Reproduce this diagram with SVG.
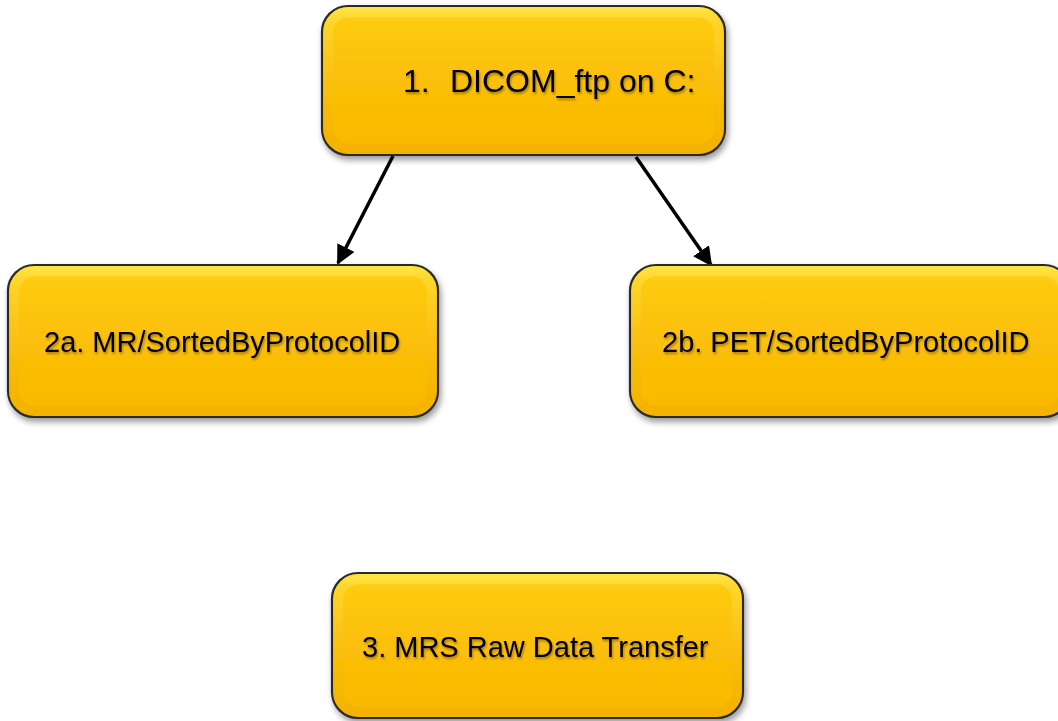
<svg xmlns="http://www.w3.org/2000/svg" width="1058" height="721" viewBox="0 0 1058 721">
<style>
.box{fill:url(#g);stroke:#2a2a2a;stroke-width:2.2;filter:url(#sh)}
.bev{fill:none;stroke:url(#bv);stroke-width:10;opacity:0.35}
.t{font-family:"Liberation Sans",Arial,sans-serif;fill:#000;font-size:29px;filter:url(#ts)}
.c{stroke:#000;stroke-width:3.5;fill:none;marker-end:url(#ah)}
</style>
<defs>
<linearGradient id="g" x1="0" y1="0" x2="0" y2="1">
<stop offset="0" stop-color="#FFE135"/>
<stop offset="0.1" stop-color="#FDCB12"/>
<stop offset="0.5" stop-color="#FBBF08"/>
<stop offset="1" stop-color="#F9B800"/>
</linearGradient>
<linearGradient id="bv" x1="0" y1="0" x2="0" y2="1">
<stop offset="0" stop-color="#FFF066"/>
<stop offset="0.5" stop-color="#F6C21A"/>
<stop offset="1" stop-color="#E8A800"/>
</linearGradient>
<filter id="sh" x="-10%" y="-10%" width="120%" height="130%">
<feGaussianBlur in="SourceAlpha" stdDeviation="3"/>
<feOffset dx="2" dy="4" result="b"/>
<feComponentTransfer><feFuncA type="linear" slope="0.4"/></feComponentTransfer>
<feMerge><feMergeNode/><feMergeNode in="SourceGraphic"/></feMerge>
</filter>
<filter id="ts" x="-5%" y="-20%" width="110%" height="140%">
<feGaussianBlur in="SourceAlpha" stdDeviation="1"/>
<feOffset dx="1" dy="1.5"/>
<feComponentTransfer><feFuncA type="linear" slope="0.35"/></feComponentTransfer>
<feMerge><feMergeNode/><feMergeNode in="SourceGraphic"/></feMerge>
</filter>
<marker id="ah" viewBox="0 0 10 10" refX="9" refY="5" markerWidth="5.5" markerHeight="5.5" orient="auto" markerUnits="strokeWidth">
<path d="M0,0 L10,5 L0,10 z" fill="#000"/>
</marker>
</defs>
<g id="connectors">
<line class="c" x1="393" y1="156" x2="338" y2="263"/>
<line class="c" x1="636" y1="157" x2="711" y2="265"/>
</g>
<g id="node1">
<rect class="box" x="322" y="6" width="403" height="149" rx="26"/>
<rect class="bev" x="328" y="12" width="391" height="137" rx="21"/>
<text class="t" y="92" style="font-size:32px"><tspan x="403">1.</tspan><tspan x="450">DICOM_ftp on C:</tspan></text>
</g>
<g id="node2a">
<rect class="box" x="8" y="265" width="430" height="152" rx="26"/>
<rect class="bev" x="14" y="271" width="418" height="140" rx="21"/>
<text class="t" x="44" y="352">2a. MR/SortedByProtocolID</text>
</g>
<g id="node2b">
<rect class="box" x="630" y="265" width="440" height="152" rx="26"/>
<rect class="bev" x="636" y="271" width="428" height="140" rx="21"/>
<text class="t" x="662" y="352">2b. PET/SortedByProtocolID</text>
</g>
<g id="node3">
<rect class="box" x="332" y="573" width="411" height="145" rx="26"/>
<rect class="bev" x="338" y="579" width="399" height="133" rx="21"/>
<text class="t" x="362" y="657">3. MRS Raw Data Transfer</text>
</g>
</svg>
